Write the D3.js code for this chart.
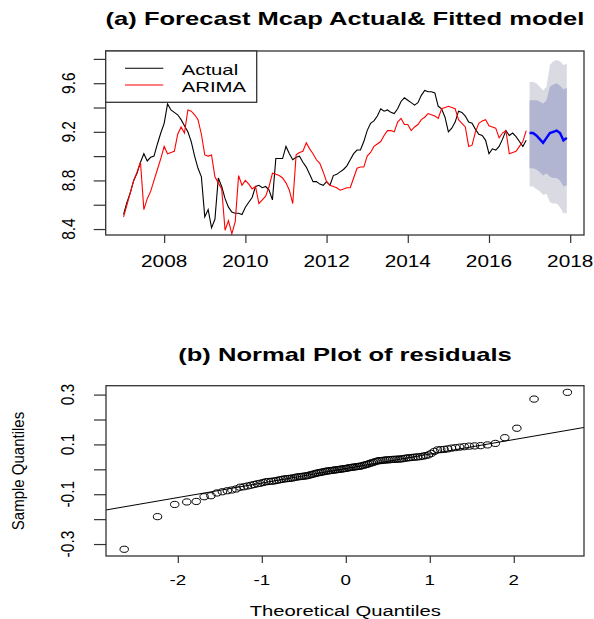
<!DOCTYPE html>
<html>
<head>
<meta charset="utf-8">
<script src="https://cdn.jsdelivr.net/npm/d3@7"></script>
<style>
  body { margin: 0; background: #fff; }
  text { font-family: "Liberation Sans", Arial, sans-serif; fill: #000; }
</style>
</head>
<body>
<div id="chart"></div>
<script>
// monthly log market cap, Jan 2007 .. Dec 2016
const actual = [
  8.52, 8.62, 8.70, 8.80, 8.86, 8.95, 9.02, 8.96, 8.99, 9.00, 9.10, 9.19,
  9.27, 9.43, 9.38, 9.36, 9.34, 9.30, 9.25, 9.20, 9.12, 9.00, 8.90, 8.83,
  8.50, 8.56, 8.41, 8.48, 8.82, 8.75, 8.65, 8.58, 8.54, 8.53, 8.53, 8.52,
  8.58, 8.62, 8.66, 8.75, 8.76, 8.74, 8.75, 8.72, 8.64, 8.98, 8.98, 8.98,
  9.08, 9.02, 8.97, 8.99, 9.00, 8.95, 8.91, 8.85, 8.79, 8.79, 8.77, 8.76,
  8.79, 8.76, 8.84, 8.85, 8.87, 8.89, 8.92, 8.97, 9.02, 9.05, 9.05, 9.12,
  9.21, 9.27, 9.29, 9.33, 9.39, 9.37, 9.38, 9.36, 9.35, 9.39, 9.45, 9.48,
  9.46, 9.44, 9.42, 9.44, 9.50, 9.54, 9.53, 9.53, 9.52, 9.41, 9.39, 9.32,
  9.20, 9.23, 9.28, 9.37, 9.36, 9.33, 9.28, 9.27, 9.22, 9.18, 9.17, 9.13,
  9.02, 9.06, 9.05, 9.08, 9.14, 9.21, 9.17, 9.19, 9.16, 9.12, 9.08, 9.13
];
const arima = [
  8.50, 8.60, 8.70, 8.80, 8.87, 8.95, 8.56, 8.65, 8.71, 8.80, 8.89, 8.98,
  9.08, 9.02, 9.03, 9.04, 9.18, 9.24, 9.19, 9.38, 9.37, 9.34, 9.30, 9.18,
  9.01, 9.00, 9.01, 8.83, 8.78, 8.73, 8.39, 8.47, 8.36, 8.46, 8.84, 8.76,
  8.80, 8.77, 8.73, 8.75, 8.61, 8.64, 8.67, 8.75, 8.86, 8.85, 8.84, 8.82,
  8.78, 8.72, 8.61, 9.01, 9.03, 9.04, 9.11, 9.06, 9.02, 8.97, 8.94, 8.87,
  8.79, 8.76, 8.75, 8.74, 8.72, 8.73, 8.74, 8.74, 8.82, 8.90, 8.91, 8.91,
  9.00, 9.03, 9.08, 9.10, 9.12, 9.17, 9.21, 9.21, 9.20, 9.28, 9.31, 9.26,
  9.26, 9.21, 9.24, 9.26, 9.30, 9.32, 9.35, 9.34, 9.33, 9.31, 9.39, 9.40,
  9.41, 9.40, 9.39, 9.30, 9.27, 9.24, 9.08, 9.09, 9.20, 9.27, 9.29, 9.30,
  9.25, 9.24, 9.23, 9.15, 9.19, 9.21, 9.02, 9.03, 9.04, 9.08, 9.12, 9.21
];
const startYear = 2007;

// 12 month forecast for 2017
const fcMean = [9.19, 9.19, 9.17, 9.14, 9.11, 9.15, 9.19, 9.20, 9.21, 9.19, 9.13, 9.15];
const fcHi80 = [9.46, 9.46, 9.46, 9.45, 9.43, 9.46, 9.57, 9.59, 9.60, 9.58, 9.55, 9.56];
const fcLo80 = [8.90, 8.90, 8.89, 8.87, 8.84, 8.86, 8.83, 8.82, 8.82, 8.80, 8.75, 8.76];
const fcHi95 = [9.61, 9.61, 9.60, 9.57, 9.54, 9.57, 9.75, 9.78, 9.79, 9.78, 9.75, 9.76];
const fcLo95 = [8.75, 8.75, 8.73, 8.71, 8.68, 8.69, 8.62, 8.61, 8.61, 8.58, 8.53, 8.53];
const fcStart = 2017;

const yearTicks = [2008, 2010, 2012, 2014, 2016, 2018];
const mcapTicks = [8.4, 8.6, 8.8, 9.0, 9.2, 9.4, 9.6, 9.8];
const mcapLabels = [8.4, 8.8, 9.2, 9.6];

// sorted model residuals
const residuals = [
  -0.321, -0.190, -0.141, -0.131, -0.129, -0.110, -0.106, -0.095, -0.090, -0.086,
  -0.083, -0.079, -0.072, -0.070, -0.067, -0.064, -0.061, -0.058, -0.056, -0.053,
  -0.050, -0.049, -0.048, -0.047, -0.045, -0.043, -0.041, -0.039, -0.038, -0.037,
  -0.036, -0.035, -0.033, -0.031, -0.030, -0.029, -0.028, -0.027, -0.026, -0.024,
  -0.022, -0.020, -0.018, -0.016, -0.014, -0.013, -0.011, -0.010, -0.008, -0.007,
  -0.006, -0.005, -0.004, -0.003, -0.002, -0.001, 0.000, 0.001, 0.002, 0.003,
  0.004, 0.006, 0.007, 0.008, 0.009, 0.010, 0.011, 0.012, 0.013, 0.015,
  0.017, 0.019, 0.021, 0.024, 0.026, 0.028, 0.031, 0.033, 0.035, 0.035,
  0.036, 0.037, 0.038, 0.038, 0.039, 0.040, 0.040, 0.041, 0.041, 0.042,
  0.043, 0.045, 0.046, 0.047, 0.048, 0.049, 0.050, 0.051, 0.053, 0.055,
  0.058, 0.064, 0.072, 0.078, 0.079, 0.080, 0.082, 0.085, 0.087, 0.089,
  0.091, 0.093, 0.094, 0.095, 0.098, 0.104, 0.127, 0.165, 0.282, 0.309
];
const qTicks = [-2, -1, 0, 1, 2];
const resTicks = [-0.3, -0.2, -0.1, 0.0, 0.1, 0.2, 0.3];
const resLabels = [-0.3, -0.1, 0.1, 0.3];

const W = 594, H = 619;
const SX = 1.35; // the picture is stretched sideways

const svg = d3.select("#chart").append("svg")
  .attr("width", W).attr("height", H);

// text that is stretched like the original raster
function label(x, y, str, size, opt) {
  opt = opt || {};
  var tr = "translate(" + x + "," + y + ") scale(" + (opt.sx || SX) + ",1)";
  if (opt.rot) tr += " rotate(-90)";
  svg.append("g").attr("transform", tr)
    .append("text")
    .attr("text-anchor", opt.anchor || "middle")
    .style("font-size", size + "px")
    .style("font-weight", opt.bold ? "bold" : null)
    .text(str);
}

// inverse normal cdf (Acklam)
function qnorm(p) {
  var a = [-39.69683028665376, 220.9460984245205, -275.9285104469687, 138.3577518672690, -30.66479806614716, 2.506628277459239];
  var b = [-54.47609879822406, 161.5858368580409, -155.6989798598866, 66.80131188771972, -13.28068155288572];
  var c = [-0.007784894002430293, -0.3223964580411365, -2.400758277161838, -2.549732539343734, 4.374664141464968, 2.938163982698783];
  var d = [0.007784695709041462, 0.3224671290700398, 2.445134137142996, 3.754408661907416];
  var q, r;
  if (p < 0.02425) {
    q = Math.sqrt(-2 * Math.log(p));
    return (((((c[0]*q+c[1])*q+c[2])*q+c[3])*q+c[4])*q+c[5]) / ((((d[0]*q+d[1])*q+d[2])*q+d[3])*q+1);
  }
  if (p > 1 - 0.02425) {
    q = Math.sqrt(-2 * Math.log(1 - p));
    return -(((((c[0]*q+c[1])*q+c[2])*q+c[3])*q+c[4])*q+c[5]) / ((((d[0]*q+d[1])*q+d[2])*q+d[3])*q+1);
  }
  q = p - 0.5; r = q * q;
  return (((((a[0]*r+a[1])*r+a[2])*r+a[3])*r+a[4])*r+a[5])*q / (((((b[0]*r+b[1])*r+b[2])*r+b[3])*r+b[4])*r+1);
}

// ---------- (a) forecast panel ----------
const x = d3.scaleLinear().domain([2006.56, 2018.34]).range([105.7, 584]);
const y = d3.scaleLinear().domain([8.351, 9.865]).range([235, 51]);

const panelA = svg.append("g");

const band = function (lo, hi) {
  return d3.area()
    .x(function (d, i) { return x(fcStart + i / 12); })
    .y0(function (d, i) { return y(lo[i]); })
    .y1(function (d, i) { return y(hi[i]); });
};
panelA.append("path").datum(fcMean).attr("d", band(fcLo95, fcHi95)).attr("fill", "#dadae2");
panelA.append("path").datum(fcMean).attr("d", band(fcLo80, fcHi80)).attr("fill", "#b1b5d2");

const monthLine = function (y0) {
  return d3.line().x(function (d, i) { return x(y0 + i / 12); }).y(function (d) { return y(d); });
};
panelA.append("path").datum(actual).attr("d", monthLine(startYear))
  .attr("fill", "none").attr("stroke", "#000").attr("stroke-width", 1.1);
panelA.append("path").datum(arima).attr("d", monthLine(startYear))
  .attr("fill", "none").attr("stroke", "#ff0000").attr("stroke-width", 1.1);
panelA.append("path").datum(fcMean).attr("d", monthLine(fcStart))
  .attr("fill", "none").attr("stroke", "#0000ff").attr("stroke-width", 2.4);

panelA.append("g").attr("transform", "translate(0,235)")
  .call(d3.axisBottom(x).tickValues(yearTicks).tickSize(8).tickFormat(""))
  .call(function (g) { g.select(".domain").remove(); g.selectAll("line").attr("stroke", "#333").attr("stroke-width", 1.2); });
panelA.append("g").attr("transform", "translate(105.7,0)")
  .call(d3.axisLeft(y).tickValues(mcapTicks).tickSize(12).tickFormat(""))
  .call(function (g) { g.select(".domain").remove(); g.selectAll("line").attr("stroke", "#333").attr("stroke-width", 1.2); });

panelA.append("rect").attr("x", 105.7).attr("y", 51).attr("width", 584 - 105.7).attr("height", 235 - 51)
  .attr("fill", "none").attr("stroke", "#333").attr("stroke-width", 1.3);

yearTicks.forEach(function (t) { label(x(t), 266.5, t, 16, { sx: 1.3 }); });
mcapLabels.forEach(function (t) { label(75, y(t), t.toFixed(1), 15.5, { rot: true, sx: 1.15 }); });

// legend
panelA.append("rect").attr("x", 105.7).attr("y", 51).attr("width", 151).attr("height", 51.3)
  .attr("fill", "#fff").attr("stroke", "#333").attr("stroke-width", 1.3);
[["Actual", "#000", 68.3], ["ARIMA", "#ff0000", 85]].forEach(function (k) {
  panelA.append("line").attr("x1", 125).attr("x2", 163.3).attr("y1", k[2]).attr("y2", k[2])
    .attr("stroke", k[1]).attr("stroke-width", 1.1);
  label(181.7, k[2] + 6.7, k[0], 15.4, { anchor: "start", sx: 1.32 });
});

label(345, 24.5, "(a) Forecast Mcap Actual& Fitted model", 18, { bold: true, sx: 1.42 });

// ---------- (b) normal plot of residuals ----------
const qx = d3.scaleLinear().domain([-2.855, 2.836]).range([106, 584]);
const qy = d3.scaleLinear().domain([-0.348, 0.3357]).range([556, 385.7]);
const n = residuals.length;
const qq = residuals.map(function (v, i) { return { t: qnorm((i + 0.5) / n), s: v }; });

const panelB = svg.append("g");

// reference line through the quartiles
const q1 = d3.quantile(residuals, 0.25), q3 = d3.quantile(residuals, 0.75);
const slope = (q3 - q1) / (qnorm(0.75) - qnorm(0.25));
const icpt = q1 - slope * qnorm(0.25);
const ends = qx.domain();
panelB.append("line")
  .attr("x1", qx(ends[0])).attr("y1", qy(icpt + slope * ends[0]))
  .attr("x2", qx(ends[1])).attr("y2", qy(icpt + slope * ends[1]))
  .attr("stroke", "#000").attr("stroke-width", 1);

panelB.selectAll("ellipse").data(qq).enter().append("ellipse")
  .attr("cx", function (d) { return qx(d.t); })
  .attr("cy", function (d) { return qy(d.s); })
  .attr("rx", 4.2).attr("ry", 3.1)
  .attr("fill", "none").attr("stroke", "#000").attr("stroke-width", 1);

panelB.append("g").attr("transform", "translate(0,556)")
  .call(d3.axisBottom(qx).tickValues(qTicks).tickSize(7).tickFormat(""))
  .call(function (g) { g.select(".domain").remove(); g.selectAll("line").attr("stroke", "#333").attr("stroke-width", 1.2); });
panelB.append("g").attr("transform", "translate(106,0)")
  .call(d3.axisLeft(qy).tickValues(resTicks).tickSize(12).tickFormat(""))
  .call(function (g) { g.select(".domain").remove(); g.selectAll("line").attr("stroke", "#333").attr("stroke-width", 1.2); });

panelB.append("rect").attr("x", 106).attr("y", 385.7).attr("width", 584 - 106).attr("height", 556 - 385.7)
  .attr("fill", "none").attr("stroke", "#333").attr("stroke-width", 1.3);

qTicks.forEach(function (t) { label(qx(t), 585, t, 15, { sx: 1.25 }); });
resLabels.forEach(function (t) { label(74, qy(t), t.toFixed(1), 15.5, { rot: true, sx: 1.15 }); });

label(345, 360.7, "(b) Normal Plot of residuals", 18, { bold: true, sx: 1.42 });
label(345.3, 616, "Theoretical Quantiles", 15, { sx: 1.35 });
label(24, 471, "Sample Quantiles", 15, { rot: true, sx: 1.12 });
</script>
</body>
</html>
